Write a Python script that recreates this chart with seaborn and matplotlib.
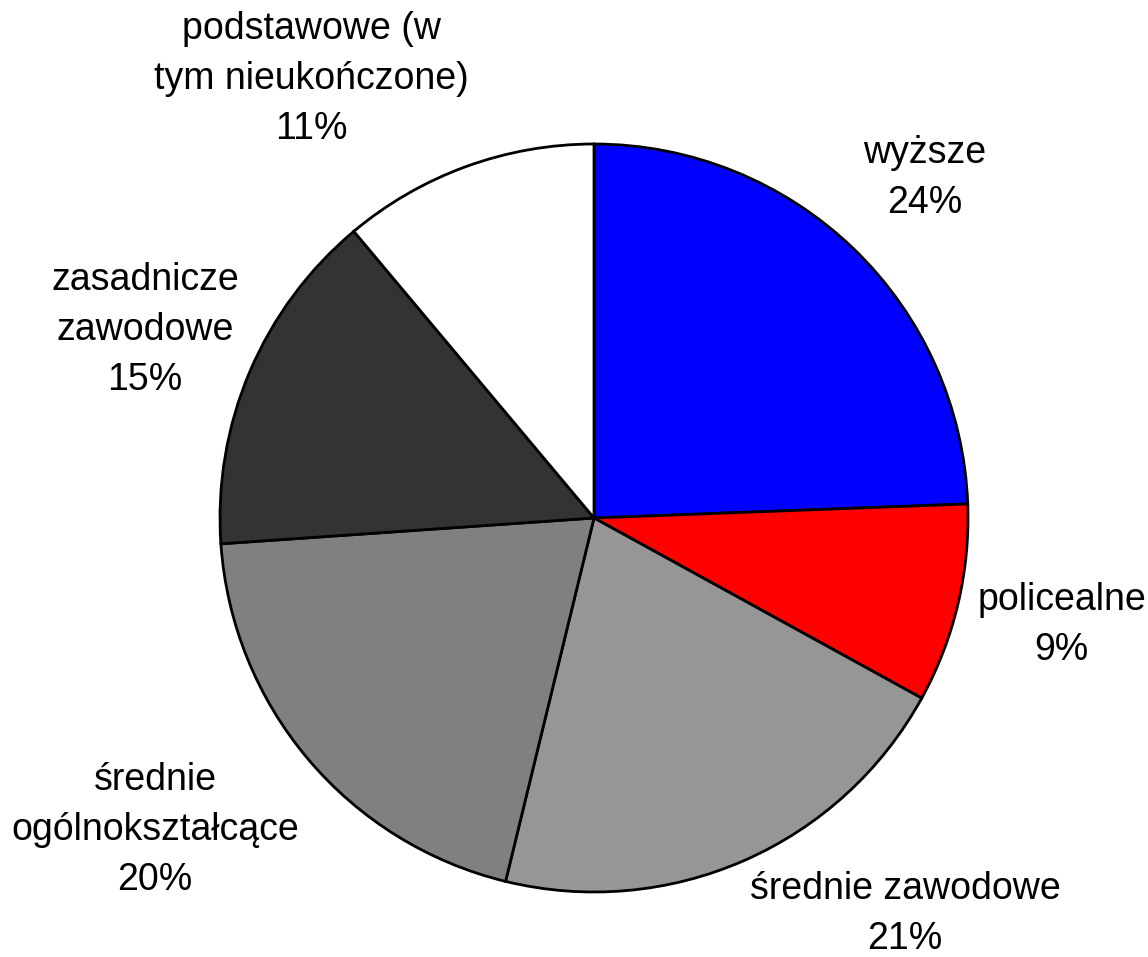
import matplotlib
matplotlib.use("Agg")
import matplotlib.pyplot as plt
import seaborn as sns

# Wykształcenie - udział procentowy
categories = ["wyższe", "policealne", "średnie zawodowe",
              "średnie\nogólnokształcące", "zasadnicze\nzawodowe",
              "podstawowe (w\ntym nieukończone)"]
shares = [24.4, 8.6, 20.8, 20.1, 15.0, 11.1]
pct_labels = [24, 9, 21, 20, 15, 11]
colors = ["#0000ff", "#ff0000", "#969696", "#808080", "#333333", "#ffffff"]

# pozycje etykiet (jednostki promienia)
label_pos = [(0.885, 0.91), (1.25, -0.286), (0.832, -1.06),
             (-1.174, -0.834), (-1.20, 0.503), (-0.755, 1.175)]

sns.set_theme(style="white")
plt.rcParams['font.family'] = ['Liberation Sans', 'DejaVu Sans']

fig = plt.figure(figsize=(11.48, 9.57), dpi=100)
ax = fig.add_axes([0, 0, 1, 1])

wedges, texts = ax.pie(
    shares, colors=colors, startangle=90, counterclock=False,
    labels=[f"{c}\n{p}%" for c, p in zip(categories, pct_labels)],
    wedgeprops=dict(edgecolor="black", linewidth=2),
    textprops=dict(fontsize=27, color="black", linespacing=1.5),
)
for t, (x, y) in zip(texts, label_pos):
    t.set_position((x, y))
    t.set_ha("center")
    t.set_va("center")
    t.set_multialignment("center")

ax.set_aspect("equal")
ax.set_xlim(-594 / 374, (1148 - 594) / 374)
ax.set_ylim(-(957 - 518) / 374, 518 / 374)
ax.axis("off")

fig.savefig("out.png", dpi=100, facecolor="white")
